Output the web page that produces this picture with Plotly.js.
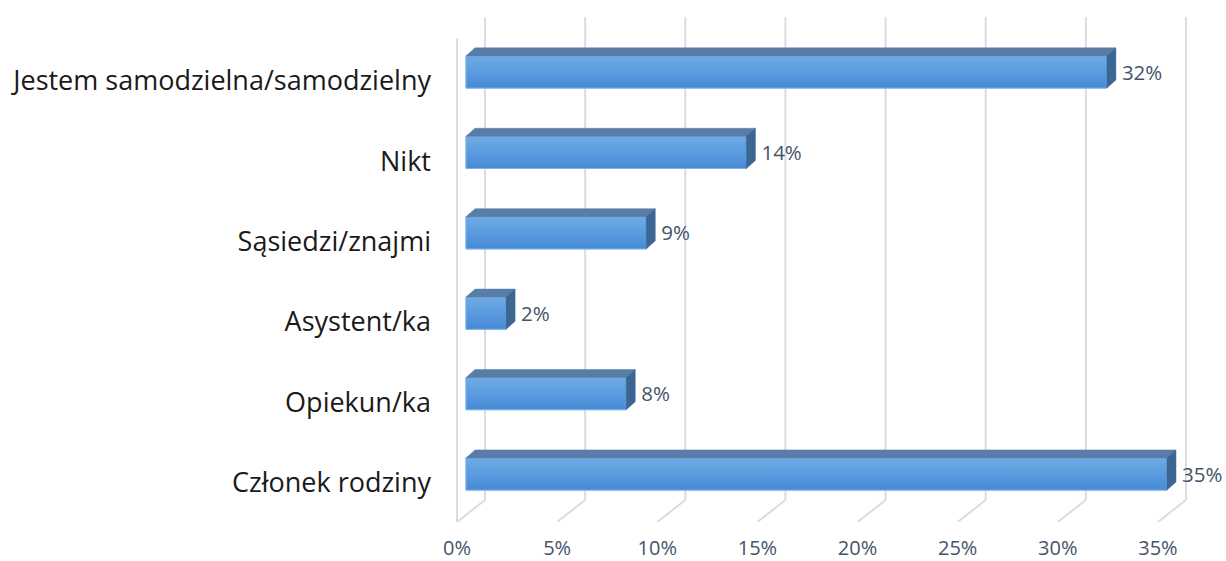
<!DOCTYPE html>
<html>
<head>
<meta charset="utf-8">
<script src="https://cdn.plot.ly/plotly-3.0.1.min.js"></script>
<style>html,body{margin:0;padding:0;background:#fff;}#chart{width:1226px;height:561px;}</style>
</head>
<body>
<div id="chart"></div>
<script>
// Data (top to bottom as shown)
var categories = ['Jestem samodzielna/samodzielny', 'Nikt', 'Sąsiedzi/znajmi', 'Asystent/ka', 'Opiekun/ka', 'Członek rodziny'];
var values = [32, 14, 9, 2, 8, 35];
var tickValues = [0, 5, 10, 15, 20, 25, 30, 35];

// 3D look parameters (in axis units)
var depthX = 0.45;   // horizontal depth offset
var depthY = 0.10;   // vertical depth offset (category units)
var barHalf = 0.2;   // half bar thickness
var wallX = 0.95;    // back wall offset
var labelGap = 0.3;  // gap between bar side and label
var labelShift = 0.11; // category label vertical offset (category units)
var yTop = -0.684, yBack = 5.323, yFront = 5.597, yWallTop = -0.42;

var pos = categories.map(function (c, i) { return i; });

var traces = [];
// front faces
traces.push({
  type: 'bar', orientation: 'h', x: values, y: pos, width: 2 * barHalf,
  marker: { color: '#5A9ADB', line: { color: '#7DB2E8', width: 1 } },
  hoverinfo: 'skip', showlegend: false
});
// gradient overlay on front faces (light at top, darker at bottom)
values.forEach(function (v, i) {
  var yt = i - barHalf, yb = i + barHalf;
  traces.push({
    type: 'scatter', mode: 'lines',
    x: [0, v, v, 0, 0], y: [yt, yt, yb, yb, yt],
    fill: 'toself',
    fillgradient: { type: 'vertical', colorscale: [[0, '#468AD4'], [0.5, '#5A9CDE'], [1, '#70AAE4']] },
    line: { color: '#7DB2E8', width: 1 },
    hoverinfo: 'skip', showlegend: false
  });
});
// top faces and side faces
var topX = [], topY = [], sideX = [], sideY = [];
values.forEach(function (v, i) {
  var yt = i - barHalf, yb = i + barHalf;
  topX.push(0, v, v + depthX, depthX, 0, null);
  topY.push(yt, yt, yt - depthY, yt - depthY, yt, null);
  sideX.push(v, v + depthX, v + depthX, v, v, null);
  sideY.push(yt, yt - depthY, yb - depthY, yb, yt, null);
});
traces.push({ type: 'scatter', mode: 'lines', x: topX, y: topY, fill: 'toself', fillcolor: '#577DA8', line: { color: '#577DA8', width: 0.5 }, hoverinfo: 'skip', showlegend: false });
traces.push({ type: 'scatter', mode: 'lines', x: sideX, y: sideY, fill: 'toself', fillcolor: '#3B6593', line: { color: '#3B6593', width: 0.5 }, hoverinfo: 'skip', showlegend: false });
// data labels
traces.push({
  type: 'scatter', mode: 'text',
  x: values.map(function (v) { return v + depthX + labelGap; }), y: pos.map(function (p) { return p + 0.03; }),
  text: values.map(function (v) { return v + '%'; }),
  textposition: 'middle right', cliponaxis: false,
  textfont: { family: 'Open Sans', size: 20.5, color: '#44546A' },
  hoverinfo: 'skip', showlegend: false
});
// invisible traces for label axes
traces.push({ type: 'scatter', mode: 'markers', x: tickValues, y: tickValues.map(function () { return 0; }), xaxis: 'x2', marker: { opacity: 0 }, hoverinfo: 'skip', showlegend: false });
traces.push({ type: 'scatter', mode: 'markers', x: pos.map(function () { return 0; }), y: pos, yaxis: 'y2', marker: { opacity: 0 }, hoverinfo: 'skip', showlegend: false });

// gridlines (back wall + floor)
var shapes = [];
var gridColor = '#D9DCE4';
tickValues.forEach(function (t) {
  shapes.push({ type: 'line', xref: 'x', yref: 'y', x0: t + wallX, x1: t + wallX, y0: yTop, y1: yBack, line: { color: gridColor, width: 2 }, layer: 'below' });
  shapes.push({ type: 'line', xref: 'x', yref: 'y', x0: t + wallX, x1: t - depthX, y0: yBack, y1: yFront, line: { color: gridColor, width: 2 }, layer: 'below' });
});
shapes.push({ type: 'line', xref: 'x', yref: 'y', x0: -depthX, x1: -depthX, y0: yWallTop, y1: yFront, line: { color: gridColor, width: 2 }, layer: 'below' });

var layout = {
  width: 1226, height: 561,
  margin: { l: 456, r: 17, t: 17, b: 39 },
  paper_bgcolor: '#ffffff', plot_bgcolor: '#ffffff',
  showlegend: false,
  xaxis: { range: [-0.5, 37.1], showgrid: false, zeroline: false, showticklabels: false, showline: false, fixedrange: true },
  xaxis2: {
    overlaying: 'x', anchor: 'y', side: 'bottom',
    range: [-0.5 + depthX, 37.1 + depthX],
    tickvals: tickValues, ticktext: tickValues.map(function (t) { return t + '%'; }),
    showgrid: false, zeroline: false, showline: false, ticks: '',
    ticklabelstandoff: 12,
    tickfont: { family: 'Open Sans', size: 20, color: '#44546A' }
  },
  yaxis: {
    range: [yFront, yTop], showticklabels: false,
    showgrid: false, zeroline: false, showline: false, ticks: ''
  },
  yaxis2: {
    overlaying: 'y', anchor: 'x', side: 'left',
    range: [yFront - labelShift, yTop - labelShift], tickvals: pos, ticktext: categories,
    showgrid: false, zeroline: false, showline: false, ticks: '',
    ticklabelstandoff: 24,
    tickfont: { family: 'Open Sans', size: 27, color: '#1A1A1A' }
  },
  shapes: shapes,
  font: { family: 'Open Sans' }
};

Plotly.newPlot('chart', traces, layout, { displayModeBar: false, staticPlot: true });
</script>
</body>
</html>
